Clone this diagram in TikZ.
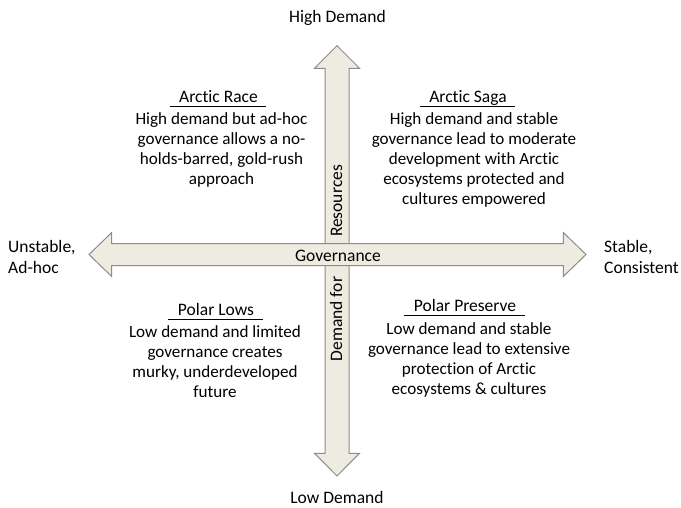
\documentclass[tikz,border=0pt]{standalone}
\usepackage{fontspec}
\setmainfont{Carlito}[Ligatures=NoCommon]

\definecolor{axisfill}{HTML}{EEECE1}
\definecolor{axisline}{HTML}{8C8C8C}

\begin{document}
\begin{tikzpicture}[x=1pt,y=-1pt,
	axis/.style={fill=axisfill,draw=axisline,line width=1pt,line join=miter},
	lbl/.style={inner sep=0pt,font=\fontsize{17.5}{21.5}\selectfont},
	body/.style={inner sep=0pt,align=center,anchor=base,font=\fontsize{17.1}{20}\selectfont},
	title/.style={inner sep=0pt,anchor=base,font=\fontsize{17.5}{20}\selectfont}]
	\useasboundingbox (0,0) rectangle (681,507);

	% demand axis (vertical)
	\filldraw[axis] (337,45.7) -- (359.5,68.3) -- (349,68.3) -- (349,453.3) -- (359.5,453.3)
		-- (337,476) -- (314.5,453.3) -- (325,453.3) -- (325,68.3) -- (314.5,68.3) -- cycle;
	% governance axis (horizontal), on top
	\filldraw[axis] (89,254.5) -- (111.7,232.5) -- (111.7,243.5) -- (563.3,243.5) -- (563.3,232.5)
		-- (586,254.5) -- (563.3,276.5) -- (563.3,265.5) -- (111.7,265.5) -- (111.7,276.5) -- cycle;

	% axis labels (base of a multi-line node = last line)
	\node[lbl,anchor=base] (high) at (337.5,22) {High Demand};
	\node[lbl,anchor=base] (low) at (337,503) {Low Demand};
	\node[lbl,anchor=base west,align=left] (unstable) at (8,273.5) {Unstable,\\Ad-hoc};
	\node[lbl,anchor=base west,align=left] (stable) at (604,273.5) {Stable,\\Consistent};
	\node[lbl,anchor=base] (gov) at (338,261) {Governance};
	\node[lbl,anchor=base,rotate=90] (res) at (342,201) {Resources};
	\node[lbl,anchor=base,rotate=90] (dem) at (342,319) {Demand for};

	% quadrant titles
	\node[title] (race) at (218.5,102) {Arctic Race};
	\node[title] (saga) at (468,102) {Arctic Saga};
	\node[title] (lows) at (216,315) {Polar Lows};
	\node[title] (preserve) at (465,311) {Polar Preserve};
	\foreach \t in {race,saga,lows,preserve}
		\draw[line width=1.8pt] ([shift={(-9.5,4.5)}]\t.base west) -- ([shift={(8.5,4.5)}]\t.base east);

	% quadrant texts
	\node[body] (racetxt) at (221.5,184) {High demand but ad-hoc\\governance allows a no-\\holds-barred, gold-rush\\approach};
	\node[body] (sagatxt) at (474,204) {High demand and stable\\governance lead to moderate\\development with Arctic\\ecosystems protected and\\cultures empowered};
	\node[body] (lowstxt) at (215,397) {Low demand and limited\\governance creates\\murky, underdeveloped\\future};
	\node[body] (presvtxt) at (469,394) {Low demand and stable\\governance lead to extensive\\protection of Arctic\\ecosystems \& cultures};
\end{tikzpicture}
\end{document}
